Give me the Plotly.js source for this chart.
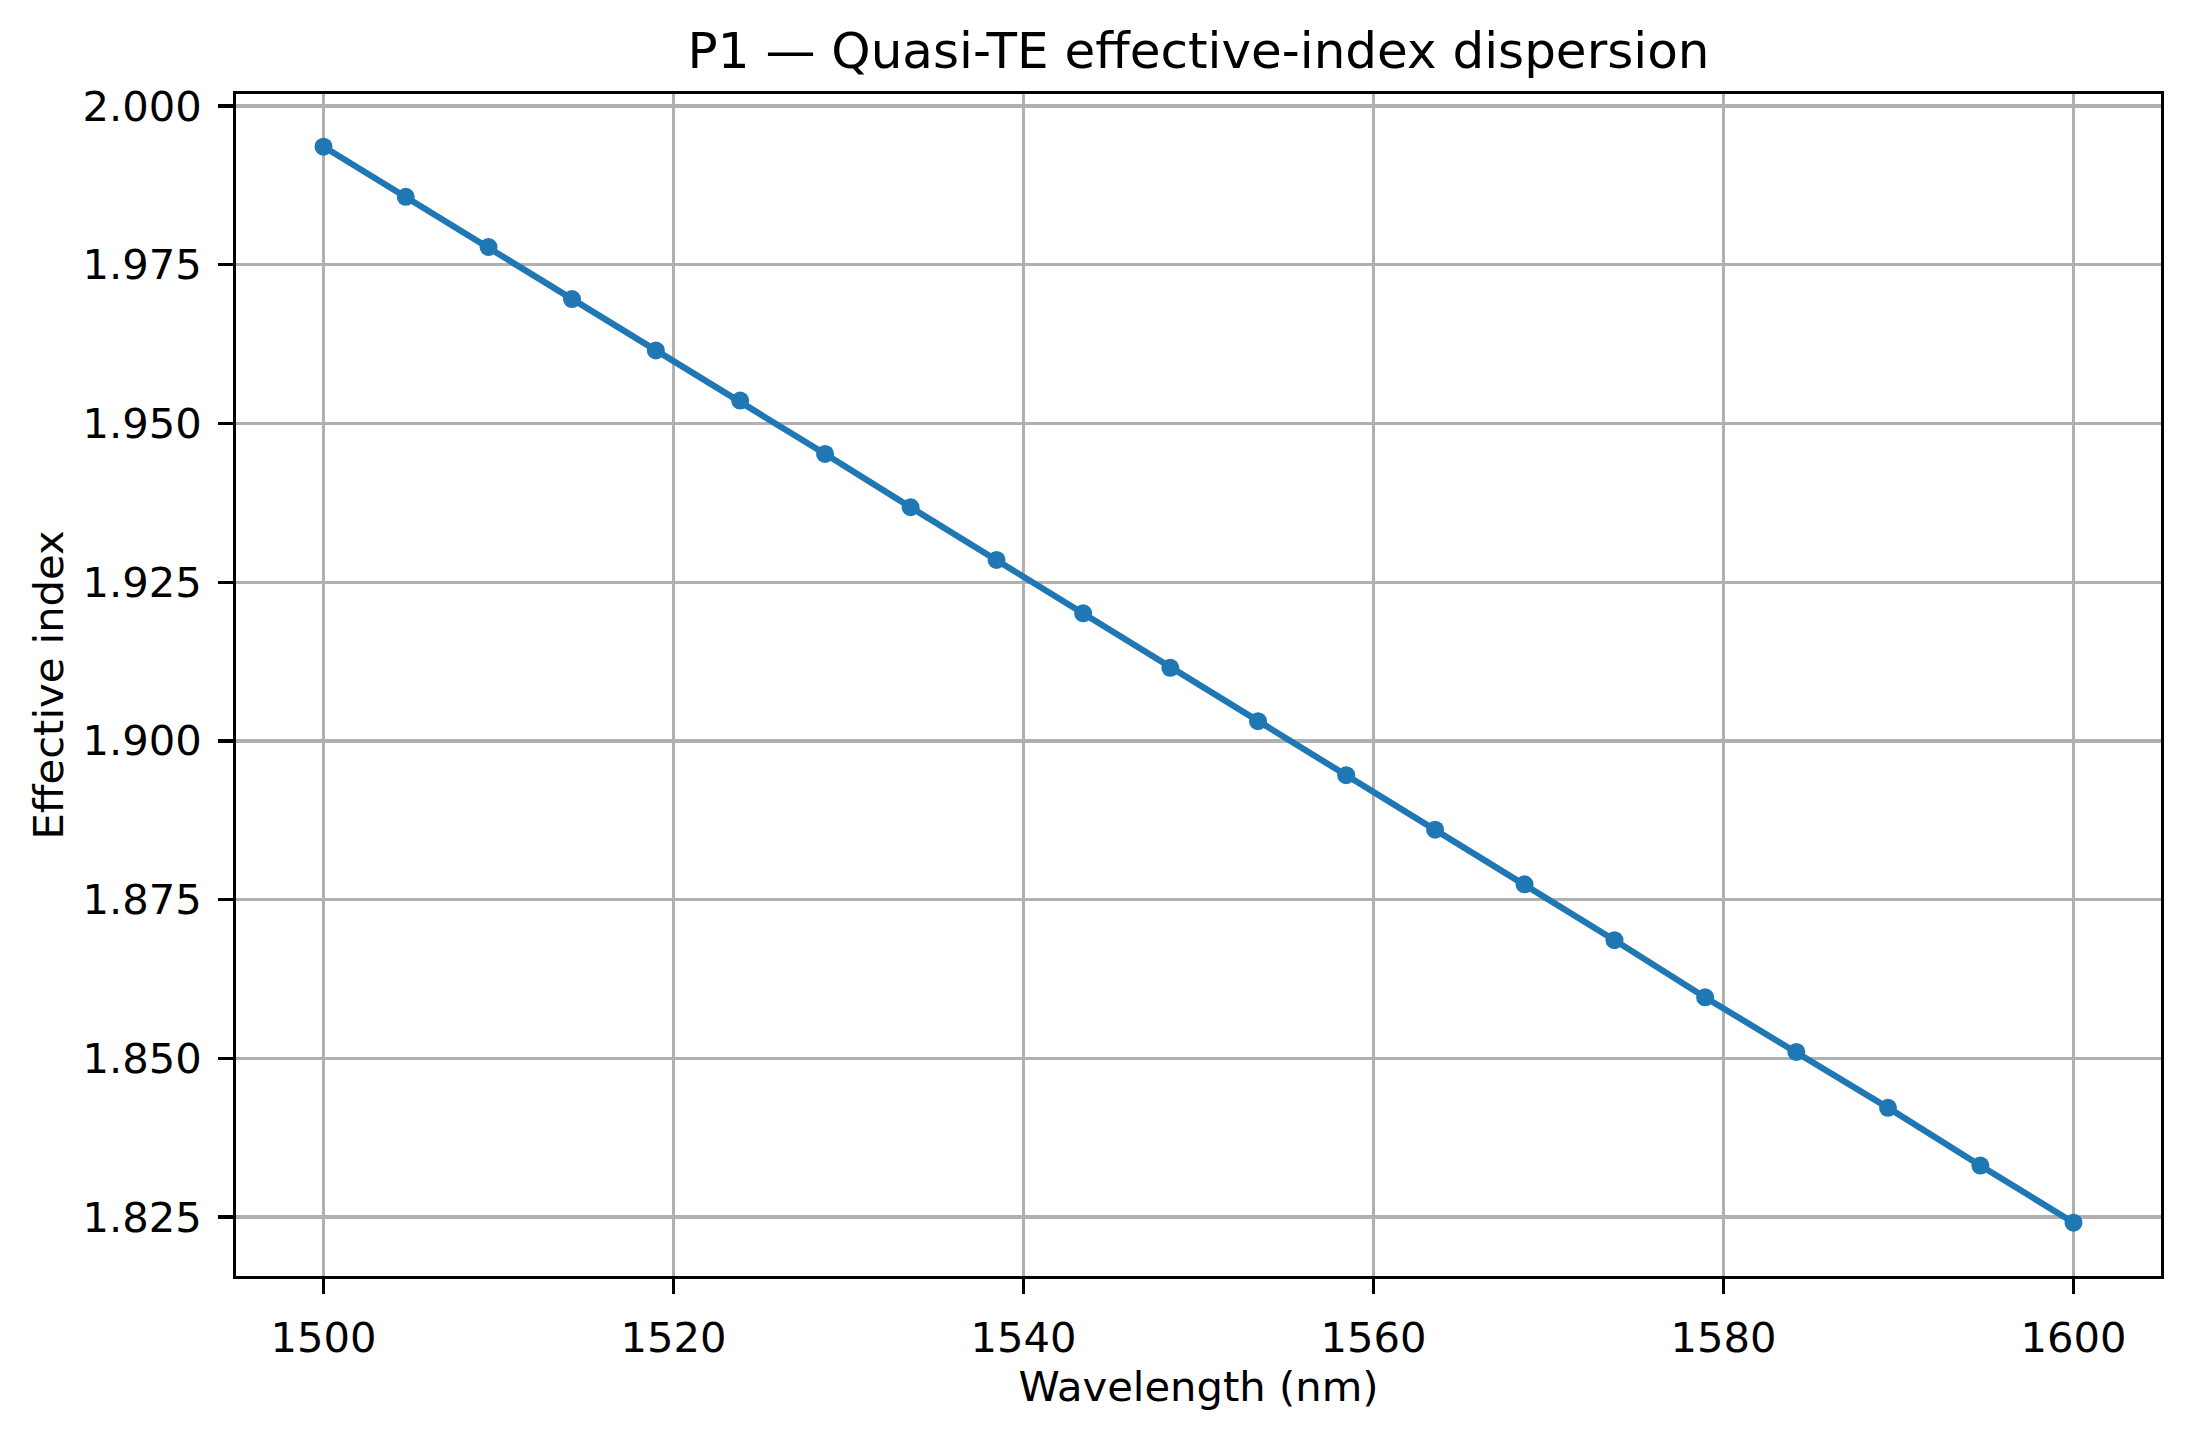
<!DOCTYPE html>
<html>
<head>
<meta charset="utf-8">
<script src="https://cdn.plot.ly/plotly-3.0.1.min.js"></script>
<style>
  html, body { margin: 0; padding: 0; background: #fff; }
  #graph { width: 2190px; height: 1436px; }
</style>
</head>
<body>
<div id="graph"></div>
<script>
var wavelengthNm = [1500.00, 1504.70, 1509.43, 1514.20, 1518.99, 1523.81, 1528.66,
    1533.55, 1538.46, 1543.41, 1548.39, 1553.40, 1558.44, 1563.52,
    1568.63, 1573.77, 1578.95, 1584.16, 1589.40, 1594.68, 1600.00]
var effIndex = [1.9936, 1.9857, 1.9778, 1.9696, 1.9615, 1.9536, 1.9452,
    1.9368, 1.9285, 1.9201, 1.9115, 1.9031, 1.8946, 1.8860,
    1.8774, 1.8686, 1.8596, 1.8510, 1.8422, 1.8331, 1.8241]
var xTicks = [1500, 1520, 1540, 1560, 1580, 1600]
var yTicks = [1.825, 1.850, 1.875, 1.900, 1.925, 1.950, 1.975, 2.000]

var font = "DejaVu Sans, Liberation Sans, sans-serif"

var trace = {
    x: wavelengthNm,
    y: effIndex,
    type: 'scatter',
    mode: 'lines+markers',
    line: {color: '#1f77b4', width: 6.25},
    marker: {color: '#1f77b4', size: 18},
    showlegend: false
}

var axisStyle = {
    showline: true,
    mirror: true,
    linecolor: '#000',
    linewidth: 3.3,
    ticks: 'outside',
    ticklen: 14.6,
    tickwidth: 3.3,
    tickcolor: '#000',
    showgrid: true,
    gridcolor: '#b0b0b0',
    gridwidth: 3.3,
    zeroline: false,
    tickfont: {family: font, size: 41.7, color: '#000'},
    ticklabelstandoff: 8
}

var layout = {
    width: 2190,
    height: 1436,
    paper_bgcolor: '#fff',
    plot_bgcolor: '#fff',
    margin: {l: 236, r: 29, t: 94, b: 160},
    title: {
        text: 'P1 — Quasi-TE effective-index dispersion',
        font: {family: font, size: 50, color: '#000'},
        x: 0.5, xref: 'paper', xanchor: 'center',
        y: 1 - 50 / 1436, yref: 'container', yanchor: 'middle'
    },
    xaxis: Object.assign({}, axisStyle, {
        range: [1495, 1605],
        tickvals: xTicks,
        ticktext: xTicks.map(String),
        title: {text: 'Wavelength (nm)', font: {family: font, size: 41.7, color: '#000'}, standoff: 8}
    }),
    yaxis: Object.assign({}, axisStyle, {
        range: [1.8157, 2.0019],
        tickvals: yTicks,
        ticktext: yTicks.map(function (v) { return v.toFixed(3) }),
        title: {text: 'Effective index', font: {family: font, size: 41.7, color: '#000'}, standoff: 6}
    })
}

Plotly.newPlot('graph', [trace], layout, {displayModeBar: false, staticPlot: true})
</script>
</body>
</html>
